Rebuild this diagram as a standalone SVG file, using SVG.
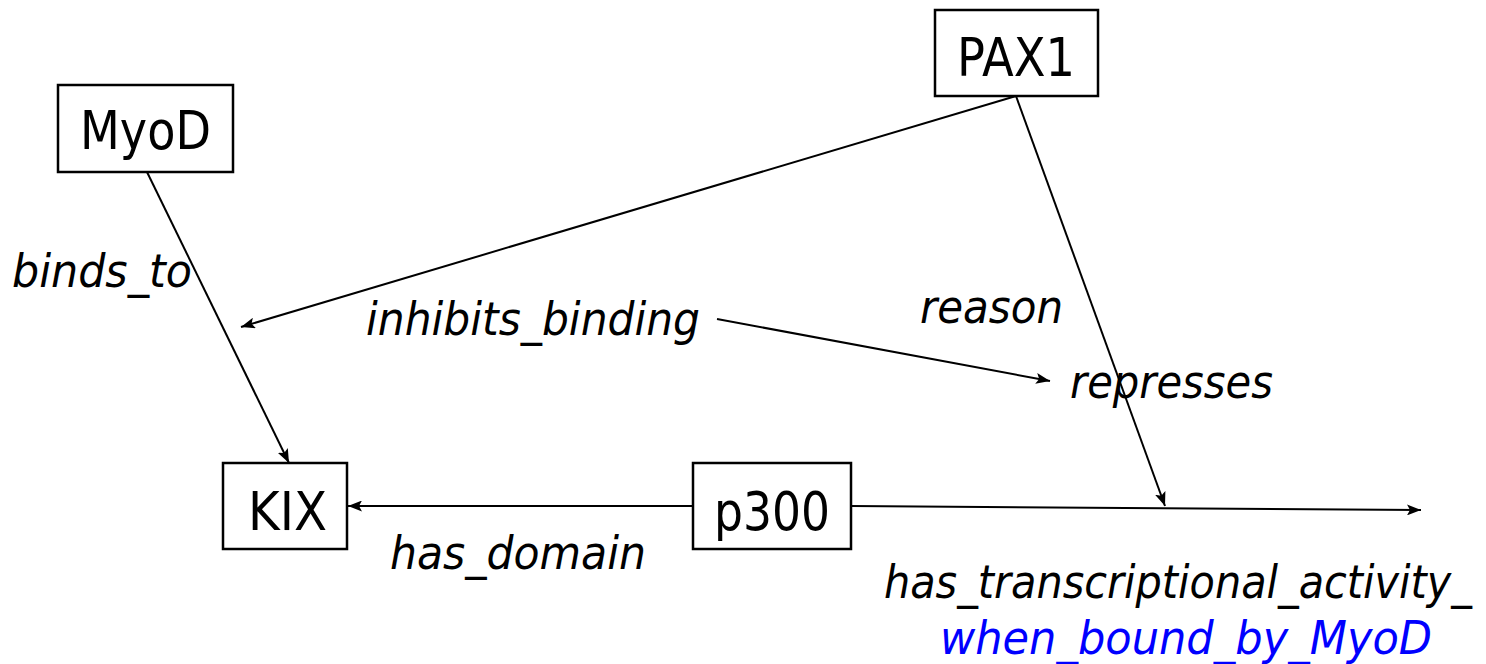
<svg xmlns="http://www.w3.org/2000/svg" width="1486" height="664" viewBox="0 0 1486 664">
  <style>
    .box { fill: #ffffff; stroke: #000000; stroke-width: 2.5; }
    .name { font-family: "DejaVu Sans", "Liberation Sans", sans-serif; font-size: 53px; fill: #000000; }
    .rel { font-family: "DejaVu Sans", "Liberation Sans", sans-serif; font-style: italic; font-size: 46px; fill: #000000; }
    .cond { fill: #0000ff; }
    .edge { stroke: #000000; stroke-width: 2; fill: none; marker-end: url(#arrow); }
  </style>
  <defs>
    <marker id="arrow" viewBox="0 0 14 11" refX="14" refY="5.5" markerWidth="14" markerHeight="11" markerUnits="userSpaceOnUse" orient="auto">
      <path d="M0,0 L14,5.5 L0,11 L3,5.5 Z" fill="#000000"/>
    </marker>
  </defs>

  <!-- connectors -->
  <g id="connectors">
    <line class="edge" x1="147" y1="172" x2="289" y2="463"/>
    <line class="edge" x1="1016" y1="96" x2="241" y2="327"/>
    <line class="edge" x1="1016" y1="96" x2="1165" y2="506"/>
    <line class="edge" x1="717" y1="319" x2="1050" y2="381"/>
    <line class="edge" x1="693" y1="506" x2="348" y2="506"/>
    <line class="edge" x1="851" y1="506" x2="1421" y2="510"/>
  </g>

  <!-- relation labels -->
  <g id="labels">
    <text class="rel" x="12" y="287" textLength="180" lengthAdjust="spacingAndGlyphs">binds_to</text>
    <text class="rel" x="366" y="335" textLength="334" lengthAdjust="spacingAndGlyphs">inhibits_binding</text>
    <text class="rel" x="920" y="323" textLength="143" lengthAdjust="spacingAndGlyphs">reason</text>
    <text class="rel" x="1070" y="398" textLength="203" lengthAdjust="spacingAndGlyphs">represses</text>
    <text class="rel" x="390" y="569" textLength="256" lengthAdjust="spacingAndGlyphs">has_domain</text>
    <text class="rel" x="884" y="598" textLength="588" lengthAdjust="spacingAndGlyphs">has_transcriptional_activity_</text>
    <text class="rel cond" x="940" y="654" textLength="492" lengthAdjust="spacingAndGlyphs">when_bound_by_MyoD</text>
  </g>

  <!-- nodes -->
  <g id="node-MyoD">
    <rect class="box" x="58" y="85" width="175" height="87"/>
    <text class="name" x="80" y="149" textLength="131" lengthAdjust="spacingAndGlyphs">MyoD</text>
  </g>
  <g id="node-PAX1">
    <rect class="box" x="935" y="10" width="163" height="86"/>
    <text class="name" x="957" y="76" textLength="118" lengthAdjust="spacingAndGlyphs">PAX1</text>
  </g>
  <g id="node-KIX">
    <rect class="box" x="223" y="463" width="124" height="86"/>
    <text class="name" x="248" y="530" textLength="79" lengthAdjust="spacingAndGlyphs">KIX</text>
  </g>
  <g id="node-p300">
    <rect class="box" x="693" y="463" width="158" height="86"/>
    <text class="name" x="714" y="530" textLength="116" lengthAdjust="spacingAndGlyphs">p300</text>
  </g>
</svg>
